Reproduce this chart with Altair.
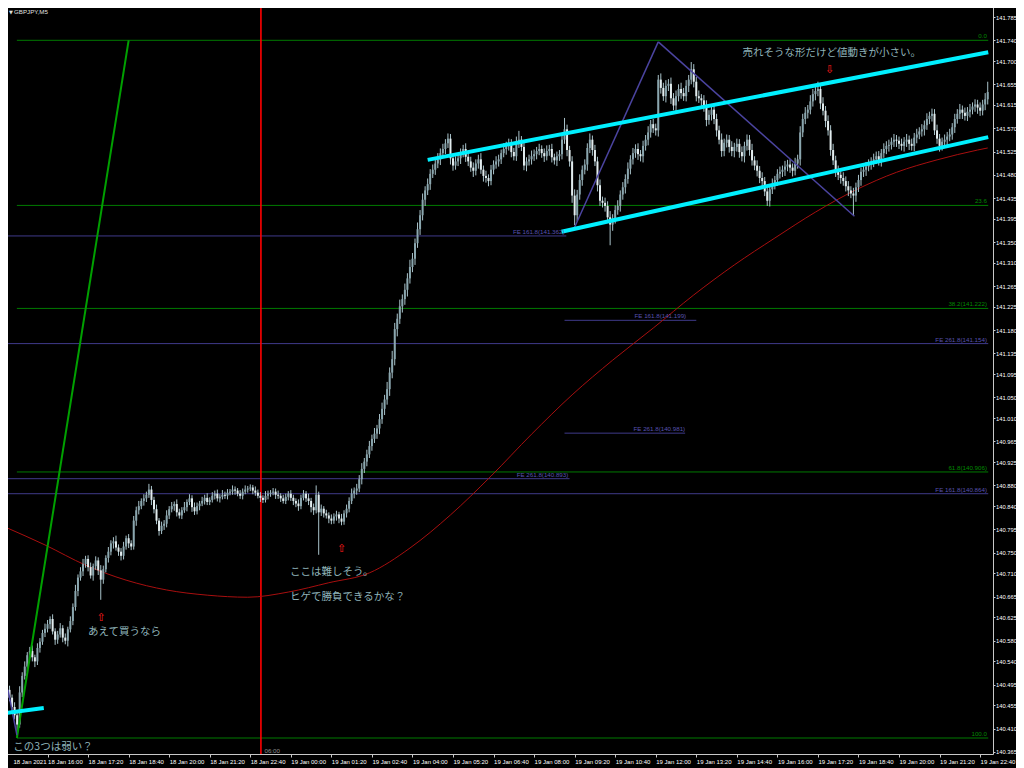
import altair as alt
import pandas as pd

# ---------------- data (prices in points: price = BASE + pts/1000) ----------------
BASE = 140.0
OPEN0 = 492
close_pts = [
    485,470,452,436,418,480,512,530,552,560,548,540,566,578,595,603,
    612,622,598,582,592,604,586,580,602,618,645,676,702,714,728,738,
    722,706,724,735,716,698,718,740,752,768,772,760,752,744,762,778,
    768,762,812,832,840,850,855,862,872,852,834,812,792,802,806,822,
    834,840,844,828,822,832,838,848,855,838,830,840,845,850,856,848,
    852,860,864,855,858,862,860,866,868,872,870,864,860,868,872,874,
    876,870,866,860,856,852,860,864,866,868,862,860,855,850,858,864,
    856,850,845,840,856,864,855,850,838,832,862,828,835,826,822,816,
    812,820,824,816,810,826,835,850,864,870,874,892,912,926,940,956,
    970,980,990,1008,1028,1046,1066,1098,1124,1182,1202,1226,1240,1258,1280,1302,
    1318,1348,1375,1402,1432,1450,1462,1482,1490,1502,1510,1522,1530,1541,1550,1512,
    1498,1506,1512,1522,1530,1515,1506,1494,1488,1502,1510,1490,1478,1474,1468,1490,
    1500,1506,1510,1522,1530,1536,1540,1524,1516,1542,1548,1534,1498,1506,1510,1516,
    1520,1526,1530,1522,1516,1526,1530,1514,1508,1516,1520,1548,1568,1528,1506,1440,
    1402,1442,1470,1490,1500,1532,1548,1528,1506,1460,1430,1426,1420,1398,1384,1396,
    1412,1420,1442,1456,1472,1492,1510,1522,1530,1520,1516,1536,1548,1562,1578,1570,
    1566,1664,1648,1632,1652,1656,1628,1614,1632,1646,1638,1632,1652,1664,1684,1660,
    1632,1628,1624,1612,1586,1596,1606,1588,1566,1548,1526,1542,1548,1534,1526,1534,
    1540,1524,1516,1536,1548,1528,1508,1498,1488,1474,1468,1448,1430,1452,1462,1470,
    1482,1486,1490,1496,1500,1494,1488,1502,1510,1562,1588,1600,1606,1622,1636,1642,
    1646,1618,1604,1584,1566,1528,1508,1488,1480,1474,1468,1458,1450,1444,1440,1456,
    1470,1486,1490,1496,1500,1506,1510,1516,1508,1522,1530,1536,1538,1544,1548,1546,
    1540,1536,1544,1548,1540,1536,1552,1558,1564,1568,1576,1588,1594,1598,1566,1550,
    1536,1544,1548,1554,1558,1572,1588,1598,1606,1600,1594,1602,1606,1612,1616,1610,
    1604,1616,1626,1640,
]
up_wick = [
    10,8,6,9,5,12,7,10,6,8,11,5,9,7,6,10,
    8,5,9,6,7,10,6,8,5,9,7,12,6,8,10,6,
    7,9,5,8,6,10,7,5,9,6,8,11,6,7,9,5,
    8,6,9,7,10,5,8,6,11,7,6,9,5,8,7,10,
    6,8,5,9,7,6,10,5,8,6,9,7,5,8,6,9,
    5,7,6,8,5,9,6,7,5,8,6,5,7,6,8,5,
    6,5,8,6,7,5,9,6,5,7,6,8,5,7,6,5,
    7,6,5,8,6,7,5,9,6,7,18,6,8,5,7,6,
    8,6,7,5,9,6,8,7,10,6,9,8,11,7,9,10,
    8,11,7,10,12,9,14,10,16,12,10,13,9,12,10,14,
    11,9,13,10,12,8,11,9,10,8,12,9,10,8,10,9,
    8,10,7,9,8,11,7,9,10,8,9,12,8,10,7,9,
    8,10,9,7,11,8,10,9,8,12,17,7,10,8,9,11,
    9,8,10,7,9,11,8,10,7,9,8,10,22,9,8,10,
    12,9,11,8,10,9,12,8,10,9,11,8,10,9,12,8,
    9,11,8,10,9,12,8,10,9,11,8,10,9,12,8,10,
    9,9,12,10,11,9,12,10,11,9,12,10,11,9,14,10,
    9,11,8,10,12,9,11,8,10,9,12,8,10,9,11,8,
    10,9,11,8,10,9,12,8,10,9,11,8,10,9,11,8,
    9,10,8,11,9,10,8,11,9,12,10,11,9,12,10,11,
    14,10,12,9,11,10,12,9,10,8,11,9,10,8,11,9,
    10,8,11,9,10,8,11,9,10,8,11,9,10,8,11,9,
    8,10,9,11,8,10,9,11,8,10,9,11,8,10,9,11,
    9,8,10,9,11,8,10,9,11,8,10,9,11,8,10,9,
    10,9,12,20,
]
dn_wick = [
    9,7,10,8,22,6,9,7,10,6,8,11,7,9,6,8,
    7,9,6,10,8,6,9,7,11,6,8,7,10,6,9,7,
    8,6,10,7,9,39,8,6,9,7,10,6,8,9,7,6,
    9,7,6,10,8,6,9,7,6,10,8,7,9,6,8,7,
    7,6,9,8,6,7,5,8,6,9,7,6,8,5,7,6,
    6,5,7,6,8,5,6,7,5,6,8,5,6,7,5,6,
    5,7,6,5,8,6,5,7,6,5,8,6,7,5,6,7,
    6,8,7,9,6,5,7,8,10,9,6,82,7,8,6,9,
    7,6,8,9,7,6,8,7,6,9,8,7,10,8,9,7,
    9,8,10,11,9,12,10,13,11,12,14,10,12,11,13,10,
    10,12,9,11,10,12,9,11,8,10,9,11,8,10,9,12,
    10,8,9,11,8,10,9,8,12,9,10,8,11,9,10,8,
    9,8,10,9,8,11,9,10,8,9,10,8,9,11,8,10,
    9,10,8,9,11,8,9,10,8,11,9,10,8,12,10,14,
    19,12,10,11,9,12,10,11,9,12,10,9,11,10,40,12,
    10,9,11,10,12,9,11,10,9,11,10,12,9,11,10,9,
    10,12,11,9,12,10,11,9,12,10,11,9,10,12,9,11,
    10,9,11,10,12,9,11,10,12,9,11,10,9,11,10,12,
    9,11,10,12,9,11,10,9,11,10,12,9,10,11,9,10,
    11,9,10,12,9,10,11,9,10,12,9,10,11,9,10,12,
    10,11,9,12,10,11,9,12,10,11,9,10,11,9,38,12,
    9,11,10,12,9,10,11,9,10,12,9,10,11,9,10,12,
    10,9,11,10,12,9,10,11,9,10,12,9,10,11,9,10,
    11,9,10,12,9,10,11,9,10,12,9,10,11,9,10,12,
    10,9,11,10,
]

# moving average (read at a few bars)
ma_bar = [0,15,31,47,63,79,95,111,127,143,159,175,191,207,223,239,255,271,287,303,319,335,351,367,383,387]
ma_pts = [798,765,726,697,678,668,664,674,692,711,759,823,898,979,1055,1122,1184,1248,1306,1358,1408,1451,1485,1509,1528,1532]

# axes
x_labels = ["18 Jan 2021","18 Jan 16:00","18 Jan 17:20","18 Jan 18:40","18 Jan 20:00","18 Jan 21:20",
            "18 Jan 22:40","19 Jan 00:00","19 Jan 01:20","19 Jan 02:40","19 Jan 04:00","19 Jan 05:20",
            "19 Jan 06:40","19 Jan 08:00","19 Jan 09:20","19 Jan 10:40","19 Jan 12:00","19 Jan 13:20",
            "19 Jan 14:40","19 Jan 16:00","19 Jan 17:20","19 Jan 18:40","19 Jan 20:00","19 Jan 21:20",
            "19 Jan 22:40"]
x_tick_bars = [0,16,32,48,64,80,96,112,128,144,160,176,192,208,224,240,256,272,288,304,320,336,352,368,384]
y_ticks = [141.785,141.740,141.700,141.655,141.615,141.570,141.525,141.480,141.435,141.395,141.350,
           141.310,141.265,141.225,141.180,141.135,141.095,141.050,141.010,140.965,140.925,140.880,
           140.840,140.795,140.750,140.710,140.665,140.625,140.580,140.540,140.495,140.455,140.410,140.365]

# fibonacci retracement
fib_names = ["0.0","23.6","38.2(141.222)","61.8(140.906)","100.0"]
fib_prices = [141.740,141.421,141.222,140.906,140.392]
fib_start = 3.9
# fibonacci expansion levels
fe_names = ["FE 161.8(141.362)","FE 161.8(141.199)","FE 261.8(141.154)",
            "FE 261.8(140.981)","FE 261.8(140.893)","FE 161.8(140.864)"]
fe_prices = [141.362,141.199,141.154,140.981,140.893,140.864]
fe_from = [0,220,0,220,0,0]
fe_to = [220.7,272,387.2,267.6,222,387.2]
fe_label_end = [220,268,386.7,267.6,221.5,386.7]

# trend lines: (x1, p1, x2, p2)
green_diag = [(3.9,140.392,48.0,141.740)]
cyan_lines = [(166.0,141.509,387.2,141.717),(218.8,141.370,387.2,141.553),(-1.0,140.440,14.5,140.450)]
purple_lines = [(223.8,141.377,257.0,141.737),(257.0,141.737,334.4,141.400),(0.4,140.485,3.9,140.398)]
vline_bar = [100.2]

notes = ["売れそうな形だけど値動きが小さい。","ここは難しそう。","ヒゲで勝負できるかな？","あえて買うなら","この3つは弱い？"]
note_bar = [290.2,111.7,111.7,32.0,2.5]
note_price = [141.715,140.713,140.664,140.597,140.3746]

arrow_glyph = ["⇧","⇧","⇩"]
arrow_bar = [37.1,132.0,324.6]
arrow_price = [140.624,140.757,141.683]

# ---------------- build tables ----------------
rows = []
prev = OPEN0
for i, (c, u, d) in enumerate(zip(close_pts, up_wick, dn_wick)):
    o = prev
    rows.append(dict(i=i, open=BASE + o / 1000, close=BASE + c / 1000,
                     high=BASE + (max(o, c) + u) / 1000, low=BASE + (min(o, c) - d) / 1000,
                     up=bool(c >= o)))
    prev = c
candles = pd.DataFrame(rows)
ma = pd.DataFrame(dict(i=ma_bar, p=[BASE + v / 1000 for v in ma_pts]))
fib = pd.DataFrame(dict(name=fib_names, p=fib_prices, a=[fib_start] * 5, b=[387.2] * 5, e=[386.7] * 5))
fe = pd.DataFrame(dict(name=fe_names, p=fe_prices, a=fe_from, b=fe_to, e=fe_label_end))

def segs(lst):
    return pd.DataFrame([dict(x1=a, p1=b, x2=c, p2=d) for a, b, c, d in lst])

notes_df = pd.DataFrame(dict(t=notes, i=note_bar, p=note_price))
arrows_df = pd.DataFrame(dict(t=arrow_glyph, i=arrow_bar, p=arrow_price))
vline_df = pd.DataFrame(dict(i=vline_bar))

# ---------------- scales / axes ----------------
W, H = 991, 752
xs = alt.Scale(domain=[0, 387.11], nice=False, zero=False)
ys = alt.Scale(domain=[140.3611, 141.8140], nice=False, zero=False)
FONT = "Liberation Sans"
lab_js = "[" + ",".join("'%s'" % s for s in x_labels) + "]"
val_js = "[" + ",".join(str(v) for v in x_tick_bars) + "]"
xaxis = alt.Axis(values=x_tick_bars, labelExpr=lab_js + "[indexof(" + val_js + ", datum.value)]",
                 labelAlign="left", labelBaseline="top", labelFont=FONT, labelFontSize=6,
                 labelOffset={"expr": "datum.value == 0 ? 6 : 0"},
                 labelColor="#ffffff", tickColor="#c8c8c8", tickSize=3, domainColor="#c8c8c8",
                 grid=False, labelPadding=1, labelFlush=False, labelOverlap=False, title=None)
yaxis = alt.Axis(orient="right", values=y_ticks, format=".3f", labelFont=FONT, labelFontSize=5.8,
                 labelColor="#ffffff", tickColor="#c8c8c8", tickSize=2, domainColor="#c8c8c8",
                 grid=False, labelPadding=0.5, labelFlush=False, labelOverlap=False, title=None)

def X(f):
    return alt.X(f, type="quantitative", scale=xs, axis=xaxis, title=None)

def Y(f):
    return alt.Y(f, type="quantitative", scale=ys, axis=yaxis, title=None)

layers = []
# fib levels
layers.append(alt.Chart(fib).mark_rule(color="#007a00", strokeWidth=1).encode(x=X("a"), x2="b", y=Y("p")))
# FE levels
layers.append(alt.Chart(fe).mark_rule(color="#3f3a8a", strokeWidth=1).encode(x=X("a"), x2="b", y=Y("p")))
# vertical red line
layers.append(alt.Chart(vline_df).mark_rule(color="#ff0000", strokeWidth=1.6).encode(x=X("i")))
# moving average
layers.append(alt.Chart(ma).mark_line(color="#a80f0f", strokeWidth=1, interpolate="monotone").encode(x=X("i"), y=Y("p")))
# candles
layers.append(alt.Chart(candles).mark_rule(color="#a9c3ca", strokeWidth=1).encode(x=X("i"), y=Y("low"), y2="high"))
layers.append(alt.Chart(candles).transform_filter("datum.up").mark_bar(size=2, color="#8aa6ae").encode(x=X("i"), y=Y("open"), y2="close"))
layers.append(alt.Chart(candles).transform_filter("!datum.up").mark_bar(size=2, color="#e2ecee").encode(x=X("i"), y=Y("open"), y2="close"))
# trend lines
layers.append(alt.Chart(segs(green_diag)).mark_rule(color="#00a000", strokeWidth=2).encode(x=X("x1"), x2="x2", y=Y("p1"), y2="p2"))
layers.append(alt.Chart(segs(purple_lines)).mark_rule(color="#4b44a0", strokeWidth=1.5).encode(x=X("x1"), x2="x2", y=Y("p1"), y2="p2"))
layers.append(alt.Chart(segs(cyan_lines)).mark_rule(color="#00f0ff", strokeWidth=4).encode(x=X("x1"), x2="x2", y=Y("p1"), y2="p2"))
# level labels
layers.append(alt.Chart(fib).mark_text(align="right", baseline="bottom", dy=-1, font=FONT, fontSize=6.2, color="#008a00").encode(x=X("e"), y=Y("p"), text="name"))
layers.append(alt.Chart(fe).mark_text(align="right", baseline="bottom", dy=-1, font=FONT, fontSize=6.2, color="#5852b0").encode(x=X("e"), y=Y("p"), text="name"))
# annotations
layers.append(alt.Chart(notes_df).mark_text(align="left", baseline="middle", font="Noto Sans CJK JP", fontSize=10.5, color="#8fb3b9").encode(x=X("i"), y=Y("p"), text="t"))
layers.append(alt.Chart(arrows_df).mark_text(align="center", baseline="middle", font="DejaVu Sans", fontSize=11, color="#ff1a1a").encode(x=X("i"), y=Y("p"), text="t"))
# time label of vertical line
layers.append(alt.Chart(pd.DataFrame(dict(t=["06:00"], i=[101.6], p=[140.366]))).mark_text(align="left", baseline="middle", font=FONT, fontSize=6.2, color="#909090").encode(x=X("i"), y=Y("p"), text="t"))
# title
layers.append(alt.Chart(pd.DataFrame(dict(t=["GBPJPY,M5"]))).mark_text(align="left", baseline="middle", font=FONT, fontSize=6.2, color="#e0e0e0").encode(x=alt.value(12), y=alt.value(10), text="t"))
layers.append(alt.Chart(pd.DataFrame(dict(t=["▼"]))).mark_text(align="left", baseline="middle", font="DejaVu Sans", fontSize=5, color="#e0e0e0").encode(x=alt.value(7), y=alt.value(10), text="t"))

chart = alt.layer(*layers).properties(
    width=W, height=H,
    padding={"left": -6, "top": -6, "right": 23, "bottom": 14},
    autosize=alt.AutoSizeParams(type="none"),
    background="#000000",
).configure_view(stroke=None)

chart.save("out.html", embed_options={"renderer": "svg", "actions": False})
